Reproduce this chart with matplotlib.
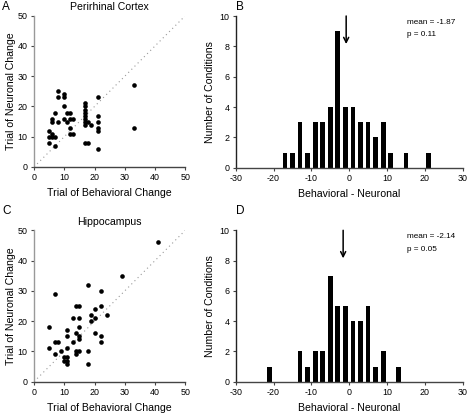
import matplotlib
matplotlib.use("Agg")
import matplotlib.pyplot as plt

plt.rcParams['font.family'] = ['Liberation Sans', 'DejaVu Sans']
plt.rcParams['axes.unicode_minus'] = False

# ---- Panel A: Perirhinal cortex scatter ----
prh_behav = [5, 6, 5, 6, 7, 5, 7, 6, 6, 7, 8, 8, 8, 10, 10,
             10, 11, 12, 10, 11, 12, 13, 12, 12, 13,
             17, 17, 17, 17, 17, 17, 17, 17, 18, 19, 17, 18,
             21, 21, 21, 21, 21, 21, 33, 33]
prh_neur = [12, 11, 10, 10, 10, 8, 7, 16, 15, 18, 15, 25, 23, 24, 23,
            20, 18, 18, 16, 15, 16, 16, 13, 11, 11,
            21, 20, 19, 18, 17, 16, 15, 14, 15, 14, 8, 8,
            23, 17, 15, 13, 12, 6, 27, 13]

# ---- Panel C: Hippocampus scatter ----
hip_behav = [41, 29, 18, 7, 22, 14, 15, 22, 20, 13, 15, 19, 24, 20, 19,
             5, 15, 11, 14, 20, 11, 15, 15, 22, 7, 8, 13, 22, 5, 11,
             9, 14, 15, 18, 14, 7, 10, 11, 10, 11, 11, 18]
hip_neur = [46, 35, 32, 29, 30, 25, 25, 25, 24, 21, 21, 22, 22, 21, 20,
            18, 18, 17, 16, 16, 15, 15, 14, 15, 13, 13, 13, 13, 11, 11,
            10, 10, 10, 10, 9, 9, 8, 8, 7, 7, 6, 6]

# ---- Panel B: Perirhinal histogram ----
prh_bins = [-17, -15, -13, -11, -9, -7, -5, -3, -1, 1, 3, 5, 7, 9, 11, 15, 21]
prh_counts = [1, 1, 3, 1, 3, 3, 4, 9, 4, 4, 3, 3, 2, 3, 1, 1, 1]
prh_mean_text = "mean = -1.87"
prh_p_text = "p = 0.11"
prh_arrow_x = -0.8

# ---- Panel D: Hippocampus histogram ----
hip_bins = [-21, -13, -11, -9, -7, -5, -3, -1, 1, 3, 5, 7, 9, 13]
hip_counts = [1, 2, 1, 2, 2, 7, 5, 5, 4, 4, 5, 1, 2, 1]
hip_mean_text = "mean = -2.14"
hip_p_text = "p = 0.05"
hip_arrow_x = -1.6

W, H = 468, 413
fig = plt.figure(figsize=(W / 100, H / 100), dpi=100)

def ax_at(x0, y0, x1, y1):
    return fig.add_axes([x0 / W, (H - y1) / H, (x1 - x0) / W, (y1 - y0) / H])

tick_fs = 6.4
label_fs = 7.6

def style(ax, left_color):
    for s in ['top', 'right']:
        ax.spines[s].set_visible(False)
    ax.spines['left'].set_color(left_color)
    ax.spines['bottom'].set_color('#444444')
    ax.spines['left'].set_linewidth(1.0)
    ax.spines['bottom'].set_linewidth(1.0)
    ax.tick_params(direction='out', length=2.5, width=0.8, labelsize=tick_fs,
                   pad=2, color='#444444')

def scatter_panel(ax, xs, ys, title):
    ax.plot([0, 50], [0, 50], linestyle=(0, (1, 3)), color='#999999', lw=0.8)
    ax.scatter(xs, ys, s=11, color='black', zorder=3, linewidths=0)
    ax.set_xlim(0, 50)
    ax.set_ylim(0, 50)
    ax.set_xticks([0, 10, 20, 30, 40, 50])
    ax.set_yticks([0, 10, 20, 30, 40, 50])
    style(ax, '#999999')
    ax.set_xlabel("Trial of Behavioral Change", fontsize=label_fs, labelpad=4)
    ax.set_ylabel("Trial of Neuronal Change", fontsize=label_fs, labelpad=1)
    ax.set_title(title, fontsize=label_fs, pad=4)

def hist_panel(ax, bins, counts, mean_text, p_text, arrow_x):
    ax.bar(bins, counts, width=1.25, color='black')
    ax.set_xlim(-30, 30)
    ax.set_ylim(0, 10)
    ax.set_xticks([-30, -20, -10, 0, 10, 20, 30])
    ax.set_yticks([0, 2, 4, 6, 8, 10])
    style(ax, '#222222')
    ax.set_xlabel("Behavioral - Neuronal", fontsize=label_fs, labelpad=4)
    ax.set_ylabel("Number of Conditions", fontsize=label_fs, labelpad=3)
    ax.annotate("", xy=(arrow_x, 8.15), xytext=(arrow_x, 10.0),
                arrowprops=dict(arrowstyle='->', color='black', lw=1.1,
                                mutation_scale=9, shrinkA=0, shrinkB=0),
                annotation_clip=False)
    ax.text(15.2, 9.6, mean_text, fontsize=5.9, va='center', ha='left')
    ax.text(15.2, 8.75, p_text, fontsize=5.9, va='center', ha='left')

axA = ax_at(34, 15.7, 185.3, 167)
axB = ax_at(235.7, 16, 462.7, 167.7)
axC = ax_at(34, 230.3, 185.3, 381.7)
axD = ax_at(235.7, 230.3, 462.7, 381.7)

scatter_panel(axA, prh_behav, prh_neur, "Perirhinal Cortex")
scatter_panel(axC, hip_behav, hip_neur, "Hippocampus")
hist_panel(axB, prh_bins, prh_counts, prh_mean_text, prh_p_text, prh_arrow_x)
hist_panel(axD, hip_bins, hip_counts, hip_mean_text, hip_p_text, hip_arrow_x)

for lab, (px, py) in zip("ABCD", [(2, 1), (236, 1), (2, 205), (236, 205)]):
    fig.text(px / W, 1 - py / H, lab, fontsize=8.5, ha='left', va='top')

fig.savefig("out.png", dpi=100)
